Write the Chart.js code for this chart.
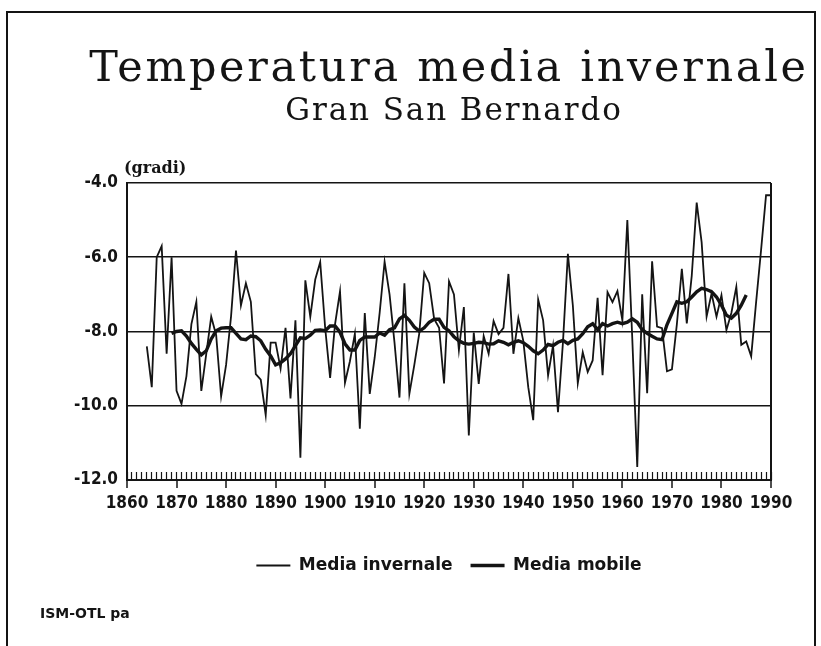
<!DOCTYPE html>
<html>
<head>
<meta charset="utf-8">
<title>Temperatura media invernale - Gran San Bernardo</title>
<script src="https://cdn.jsdelivr.net/npm/chart.js@4.4.1/dist/chart.umd.min.js"></script>
<style>
  html, body { margin: 0; padding: 0; background: #fff; }
  canvas { display: block; }
</style>
</head>
<body>
<canvas id="lineChart" width="821" height="646"></canvas>
<script>
// winter means, Gran San Bernardo (degrees C)
var years = [
  1864, 1865, 1866, 1867, 1868, 1869, 1870, 1871, 1872, 1873,
  1874, 1875, 1876, 1877, 1878, 1879, 1880, 1881, 1882, 1883,
  1884, 1885, 1886, 1887, 1888, 1889, 1890, 1891, 1892, 1893,
  1894, 1895, 1896, 1897, 1898, 1899, 1900, 1901, 1902, 1903,
  1904, 1905, 1906, 1907, 1908, 1909, 1910, 1911, 1912, 1913,
  1914, 1915, 1916, 1917, 1918, 1919, 1920, 1921, 1922, 1923,
  1924, 1925, 1926, 1927, 1928, 1929, 1930, 1931, 1932, 1933,
  1934, 1935, 1936, 1937, 1938, 1939, 1940, 1941, 1942, 1943,
  1944, 1945, 1946, 1947, 1948, 1949, 1950, 1951, 1952, 1953,
  1954, 1955, 1956, 1957, 1958, 1959, 1960, 1961, 1962, 1963,
  1964, 1965, 1966, 1967, 1968, 1969, 1970, 1971, 1972, 1973,
  1974, 1975, 1976, 1977, 1978, 1979, 1980, 1981, 1982, 1983,
  1984, 1985, 1986, 1987, 1988, 1989, 1990
];

var winterMean = [
  -8.4, -9.5, -6.0, -5.7, -8.6, -6.0, -9.6, -9.95, -9.2, -7.8,
  -7.2, -9.6, -8.6, -7.6, -8.1, -9.75, -8.9, -7.6, -5.82, -7.3,
  -6.7, -7.2, -9.15, -9.3, -10.25, -8.3, -8.3, -9.0, -7.9, -9.8,
  -7.7, -11.4, -6.62, -7.6, -6.6, -6.13, -7.9, -9.25, -7.8, -6.92,
  -9.38, -8.8, -8.06, -10.62, -7.5, -9.68, -8.7, -7.5, -6.12, -7.0,
  -8.3, -9.78, -6.7, -9.68, -8.9, -8.05, -6.42, -6.7, -7.66, -7.9,
  -9.4, -6.65, -7.0, -8.5, -7.34, -10.8, -8.03, -9.41, -8.12, -8.6,
  -7.72, -8.07, -7.9, -6.45, -8.6, -7.64, -8.25, -9.5, -10.39, -7.14,
  -7.7, -9.18, -8.38, -10.17, -8.3, -5.91, -7.3, -9.39, -8.56, -9.09,
  -8.78, -7.09, -9.18, -6.94, -7.21, -6.91, -7.7, -5.0, -8.2, -11.65,
  -7.0, -9.66, -6.11, -7.87, -7.91, -9.07, -9.02, -7.8, -6.31, -7.78,
  -6.5, -4.53, -5.6, -7.6, -6.98, -7.6, -7.02, -7.96, -7.5, -6.8,
  -8.36, -8.27, -8.67, -7.2, -5.8, -4.33, -4.33
];

// moving average, 1869 - 1985
var movingAvg = [
  -8.05, -8.0, -7.98, -8.12, -8.32, -8.48, -8.63, -8.52, -8.2, -7.98,
  -7.91, -7.9, -7.9, -8.05, -8.2, -8.22, -8.12, -8.14, -8.25, -8.48,
  -8.66, -8.9, -8.84, -8.74, -8.6, -8.38, -8.17, -8.19, -8.1, -7.97,
  -7.96, -7.98, -7.85, -7.85, -8.02, -8.33, -8.5, -8.5, -8.24, -8.15,
  -8.15, -8.15, -8.04, -8.1, -7.95, -7.9, -7.66, -7.57, -7.7, -7.88,
  -7.99, -7.9, -7.75, -7.67, -7.67, -7.89, -7.98, -8.14, -8.25, -8.32,
  -8.34, -8.32, -8.29, -8.3, -8.34, -8.33, -8.25, -8.29, -8.36, -8.29,
  -8.25, -8.3, -8.4, -8.52, -8.6, -8.5, -8.35, -8.38, -8.29, -8.24,
  -8.33, -8.24, -8.2, -8.06, -7.87, -7.79, -7.95, -7.79, -7.85, -7.79,
  -7.75, -7.79, -7.75, -7.66, -7.75, -7.95, -8.05, -8.13, -8.2, -8.22,
  -7.82, -7.51, -7.2, -7.24, -7.2, -7.07, -6.93, -6.84, -6.87, -6.93,
  -7.07, -7.29, -7.56, -7.64, -7.51, -7.29, -7.02
];
var maYears = years.slice(5, 5 + movingAvg.length);

var xTickLabels = [1860, 1870, 1880, 1890, 1900, 1910, 1920, 1930, 1940, 1950, 1960, 1970, 1980, 1990];
var yTickLabels = [-12, -10, -8, -6, -4];

var ink = '#141414';
var labelFont = "'DejaVu Sans Condensed', 'Liberation Sans Narrow', 'DejaVu Sans', sans-serif";
var legendFont = "'DejaVu Sans', sans-serif";
var titleFont = "'DejaVu Serif', 'Liberation Serif', serif";

function toPoints(xs, ys) {
  return ys.map(function (v, i) { return { x: xs[i], y: v }; });
}

// one small tick per year along the bottom axis
var minorTicks = [];
for (var yr = xTickLabels[0]; yr <= xTickLabels[xTickLabels.length - 1]; yr++) {
  minorTicks.push({ value: yr });
}

function spacedText(c, text, x, y, spacing) {
  // canvas letterSpacing widens the slab title like the original lettering
  if ('letterSpacing' in c) c.letterSpacing = spacing + 'px';
  c.fillText(text, x, y);
  if ('letterSpacing' in c) c.letterSpacing = '0px';
}

var framePlugin = {
  id: 'frame',
  beforeDraw: function (chart) {
    var c = chart.ctx;
    c.save();
    c.fillStyle = '#fff';
    c.fillRect(0, 0, chart.width, chart.height);
    c.strokeStyle = ink;
    c.lineWidth = 2;
    c.beginPath();
    c.moveTo(7, chart.height);
    c.lineTo(7, 12);
    c.lineTo(815, 12);
    c.lineTo(815, chart.height);
    c.stroke();
    c.restore();
  },
  afterDraw: function (chart) {
    var c = chart.ctx;
    var area = chart.chartArea;
    var mid = (area.left + area.right) / 2;
    c.save();
    c.fillStyle = ink;
    c.textAlign = 'center';
    c.textBaseline = 'alphabetic';
    c.font = "43px " + titleFont;
    spacedText(c, 'Temperatura media invernale', mid, 81, 2.7);
    c.font = "31px " + titleFont;
    spacedText(c, 'Gran San Bernardo', mid + 5, 120, 1.9);

    c.textAlign = 'left';
    c.textBaseline = 'middle';
    c.font = "bold 16px " + titleFont;
    c.fillText('(gradi)', area.left - 3, area.top - 14);
    c.font = "bold 14px 'DejaVu Sans', sans-serif";
    c.fillText('ISM-OTL pa', 40, 614);
    c.restore();
  }
};

var ctxL = document.getElementById('lineChart').getContext('2d');
var myLineChart = new Chart(ctxL, {
  type: 'line',
  data: {
    datasets: [
      {
        label: 'Media invernale',
        data: toPoints(years, winterMean),
        borderColor: ink,
        backgroundColor: ink,
        borderWidth: 1.8,
        pointRadius: 0,
        tension: 0,
        xAxisID: 'x',
        yAxisID: 'y'
      },
      {
        label: 'Media mobile',
        data: toPoints(maYears, movingAvg),
        borderColor: ink,
        backgroundColor: ink,
        borderWidth: 3.4,
        pointRadius: 0,
        tension: 0,
        xAxisID: 'x',
        yAxisID: 'y'
      }
    ]
  },
  options: {
    responsive: false,
    animation: false,
    events: [],
    layout: { padding: { top: 183, left: 67, right: 50, bottom: 62 } },
    plugins: {
      title: { display: false },
      legend: {
        position: 'bottom',
        fullSize: false,
        labels: {
          usePointStyle: true,
          pointStyle: 'line',
          pointStyleWidth: 34,
          color: ink,
          padding: 18,
          font: { family: legendFont, size: 17, weight: 'bold' }
        }
      },
      tooltip: { enabled: false }
    },
    scales: {
      x: {
        type: 'linear',
        position: 'bottom',
        min: 1860,
        max: 1990,
        afterBuildTicks: function (s) {
          s.ticks = xTickLabels.map(function (v) { return { value: v }; });
        },
        afterFit: function (s) { s.height = 59; },
        ticks: {
          color: ink,
          padding: 5,
          maxRotation: 0,
          autoSkip: false,
          font: { family: labelFont, size: 17, weight: 'bold' },
          callback: function (v) { return String(v); }
        },
        grid: {
          drawOnChartArea: true,
          color: function (c) {
            return (c.tick && c.tick.value === 1990) ? ink : 'rgba(0,0,0,0)';
          },
          lineWidth: 2,
          tickColor: ink,
          tickWidth: 1.5,
          tickLength: 8
        },
        border: { display: true, color: ink, width: 2 }
      },
      xMinor: {
        type: 'linear',
        axis: 'x',
        position: { y: -12 },
        min: 1860,
        max: 1990,
        afterBuildTicks: function (s) { s.ticks = minorTicks.slice(); },
        ticks: { display: false },
        grid: {
          drawOnChartArea: false,
          drawTicks: true,
          tickLength: -8,
          tickColor: ink,
          tickWidth: 1.2
        },
        border: { display: false }
      },
      y: {
        type: 'linear',
        min: -12,
        max: -4,
        afterBuildTicks: function (s) {
          s.ticks = yTickLabels.map(function (v) { return { value: v }; });
        },
        afterFit: function (s) { s.width = 60; },
        ticks: {
          color: ink,
          padding: 9,
          font: { family: labelFont, size: 17, weight: 'bold' },
          callback: function (v) { return v.toFixed(1); }
        },
        grid: { color: ink, lineWidth: 1.6, drawTicks: false },
        border: { display: true, color: ink, width: 2 }
      }
    }
  },
  plugins: [framePlugin]
});
</script>
</body>
</html>
